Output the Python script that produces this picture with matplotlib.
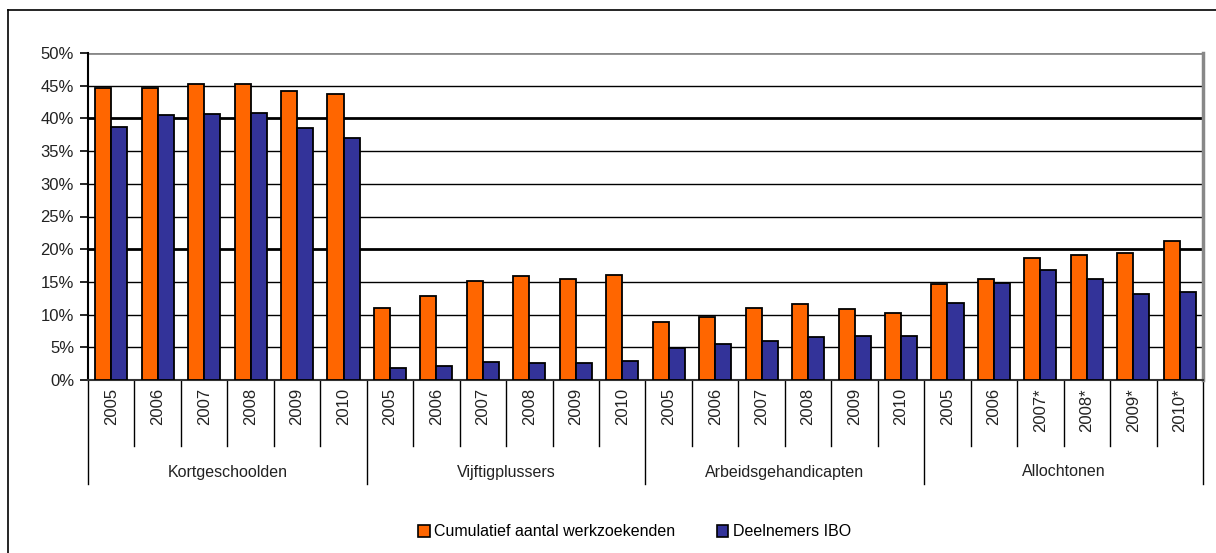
import numpy as np
import matplotlib
matplotlib.use('Agg')
import matplotlib.pyplot as plt
from matplotlib.lines import Line2D
from matplotlib.patches import Patch

plt.rcParams['font.family'] = ['Liberation Sans', 'DejaVu Sans']

# Datos (porcentajes)
groepen = ['Kortgeschoolden', 'Vijftigplussers', 'Arbeidsgehandicapten', 'Allochtonen']
jaren = [['2005', '2006', '2007', '2008', '2009', '2010'],
         ['2005', '2006', '2007', '2008', '2009', '2010'],
         ['2005', '2006', '2007', '2008', '2009', '2010'],
         ['2005', '2006', '2007*', '2008*', '2009*', '2010*']]

werkzoekenden_kort = [44.6, 44.6, 45.2, 45.2, 44.2, 43.7]
werkzoekenden_vijftig = [11.0, 12.9, 15.2, 15.9, 15.4, 16.0]
werkzoekenden_arbeid = [8.8, 9.7, 11.0, 11.6, 10.9, 10.3]
werkzoekenden_alloch = [14.7, 15.4, 18.6, 19.1, 19.4, 21.2]

ibo_kort = [38.7, 40.5, 40.7, 40.8, 38.5, 37.0]
ibo_vijftig = [1.9, 2.1, 2.75, 2.6, 2.6, 2.95]
ibo_arbeid = [4.9, 5.55, 6.0, 6.6, 6.7, 6.7]
ibo_alloch = [11.8, 14.9, 16.8, 15.4, 13.1, 13.4]

werkzoekenden = werkzoekenden_kort + werkzoekenden_vijftig + werkzoekenden_arbeid + werkzoekenden_alloch
ibo = ibo_kort + ibo_vijftig + ibo_arbeid + ibo_alloch
etiquetas = [j for g in jaren for j in g]

naranja = '#FF6600'
azul = '#333399'

fig = plt.figure(figsize=(12.16, 5.53), dpi=100)
ax = fig.add_axes([88 / 1216, 1 - 380 / 553, (1203 - 88) / 1216, (380 - 53) / 553])

x = np.arange(len(etiquetas))
ancho = 0.345
ax.bar(x - ancho / 2, werkzoekenden, ancho, color=naranja, edgecolor='black', linewidth=1.3, zorder=3)
ax.bar(x + ancho / 2, ibo, ancho, color=azul, edgecolor='black', linewidth=1.3, zorder=3)

ax.set_xlim(-0.5, len(etiquetas) - 0.5)
ax.set_ylim(0, 50)
ax.set_yticks(np.arange(0, 51, 5))
ax.set_yticklabels([f'{v}%' for v in range(0, 51, 5)], fontsize=12, color='#222222')
ax.tick_params(axis='y', length=6, width=1.2, direction='out', pad=4)
ax.set_xticks([])

# Líneas de cuadrícula
for v in range(5, 50, 5):
    lw = 2.0 if v in (20, 40) else 1.0
    ax.axhline(v, color='black', linewidth=lw, zorder=1)
ax.axhline(50, color='#888888', linewidth=2, zorder=1)

ax.spines['top'].set_visible(False)
ax.spines['right'].set_color('#888888')
ax.spines['right'].set_linewidth(2.5)
ax.spines['left'].set_linewidth(1.5)
ax.spines['bottom'].set_linewidth(1.5)
ax.spines['bottom'].set_color('#333333')

# Eje de categorías en dos niveles
tr = ax.get_xaxis_transform()
alto = 327.0
for i in range(len(etiquetas) + 1):
    pos = i - 0.5
    if i % 6 == 0:
        y_fin = -104 / alto
    else:
        y_fin = -66 / alto
    ax.add_line(Line2D([pos, pos], [0, y_fin], transform=tr, color='black',
                       linewidth=1.0, clip_on=False))

for i, lab in enumerate(etiquetas):
    ax.text(i, -8 / alto, lab, transform=tr, rotation=90, ha='center', va='top',
            fontsize=12, color='#222222')

for k, g in enumerate(groepen):
    ax.text(k * 6 + 2.5, -92 / alto, g, transform=tr, ha='center', va='center',
            fontsize=11.5, color='#222222')

# Leyenda
handles = [Patch(facecolor=naranja, edgecolor='black', linewidth=1.2),
           Patch(facecolor=azul, edgecolor='black', linewidth=1.2)]
fig.legend(handles, ['Cumulatief aantal werkzoekenden', 'Deelnemers IBO'],
           loc='center', bbox_to_anchor=(0.522, 1 - 532 / 553), ncol=2, frameon=False,
           fontsize=11.5, handlelength=0.7, handleheight=0.7, handletextpad=0.3,
           columnspacing=2.6)

# Marco exterior
fig.add_artist(Line2D([8 / 1216, 8 / 1216], [0, 1 - 10 / 553], transform=fig.transFigure,
                      color='black', linewidth=1.2))
fig.add_artist(Line2D([8 / 1216, 1], [1 - 10 / 553, 1 - 10 / 553], transform=fig.transFigure,
                      color='black', linewidth=1.2))

fig.savefig('out.png', dpi=100)
